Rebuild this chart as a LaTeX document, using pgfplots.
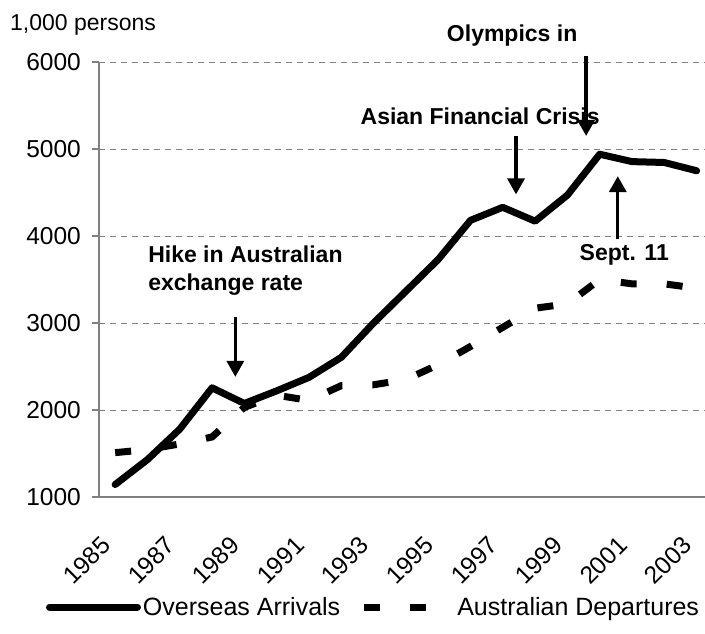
\documentclass[border=0pt]{standalone}
\usepackage{pgfplots}
\usepackage{pgfplotstable}
\pgfplotsset{compat=1.18}
\usepackage{fontspec}
\setmainfont{Liberation Sans}
\usetikzlibrary{arrows.meta}

% visitors, 1,000 persons (idx 0 = 1985)
\pgfplotstableread{
idx year arr  dep
0   1985 1143 1510
1   1986 1430 1545
2   1987 1780 1610
3   1988 2255 1690
4   1989 2075 2030
5   1990 2220 2170
6   1991 2375 2110
7   1992 2605 2280
8   1993 3000 2290
9   1994 3365 2350
10  1995 3730 2520
11  1996 4180 2730
12  1997 4330 2950
13  1998 4170 3170
14  1999 4470 3220
15  2000 4940 3500
16  2001 4855 3450
17  2002 4845 3450
18  2003 4750 3400
}\tourism

\newcommand\lbl{\fontsize{23}{28}\selectfont}
\newcommand\tkl{\fontsize{24.5}{29}\selectfont}
\tikzstyle{note}=[font=\bfseries\lbl, inner sep=0pt]
\tikzstyle{pointer}=[line width=3.3pt, -{Triangle[width=17pt,length=16pt]}]

\begin{document}
\begin{tikzpicture}
\useasboundingbox (0pt,0pt) rectangle (705pt,633pt);
\begin{axis}[
    at={(99pt,136pt)}, anchor=south west,
    scale only axis, width=606pt, height=435pt,
    xmin=-0.5, xmax=18.26, ymin=1000, ymax=6000,
    axis x line*=bottom, axis y line*=left,
    axis line style={draw=gray, line width=1.3pt},
    xtick={0,2,...,18},
    xticklabels={1985,1987,1989,1991,1993,1995,1997,1999,2001,2003},
    xtick style={draw=none},
    minor xtick={-0.5,0.5,...,17.5},
    minor tick length=7pt,
    minor tick style={draw=gray, line width=1.3pt},
    ytick={1000,2000,...,6000},
    ytick style={draw=gray, line width=1.3pt},
    major tick length=7pt,
    tick align=outside,
    ymajorgrids,
    major grid style={draw=gray, line width=1pt, dash pattern=on 6pt off 5pt},
    scaled y ticks=false,
    /pgf/number format/1000 sep={},
    /pgf/number format/assume math mode=true,
    tick label style={font=\tkl},
    yticklabel style={inner sep=0pt, xshift=-11pt},
    xticklabel style={anchor=east, inner sep=0pt, xshift=-9pt, yshift=-37pt, rotate=45},
    clip=false,
    legend style={at={(axis description cs:0.453,-0.253)}, anchor=center,
        draw=none, fill=none, legend columns=2, font=\fontsize{25}{30}\selectfont,
        /tikz/every even column/.append style={column sep=18pt},
        nodes={inner sep=2pt}},
    legend image code/.code={\draw[#1] (0pt,0pt) -- (88pt,0pt);},
]
\addplot[black, line width=7pt, line join=round, line cap=round]
    table[x=idx, y=arr] {\tourism};
\addlegendentry{Overseas Arrivals}
\addplot[black, line width=7pt, dash pattern=on 16pt off 30pt]
    table[x=idx, y=dep] {\tourism};
\addlegendentry{Australian Departures}

% annotations
\node[note] at (axis cs:12.29,6302) {Olympics in};
\draw[pointer] (axis cs:14.58,6072) -- (axis cs:14.58,5150);
\node[note] at (axis cs:11.30,5380) {Asian Financial Crisis};
\draw[pointer] (axis cs:12.41,5150) -- (axis cs:12.41,4478);
\node[note, anchor=west] at (axis cs:1.02,3788) {Hike in Australian};
\node[note, anchor=west] at (axis cs:1.02,3442) {exchange rate};
\draw[pointer] (axis cs:3.72,3073) -- (axis cs:3.72,2381);
\node[note] at (axis cs:15.76,3788) {Sept. 11};
\draw[pointer] (axis cs:15.56,3961) -- (axis cs:15.56,4688);
\end{axis}
\node[anchor=west, font=\lbl, inner sep=0pt] at (10pt,608pt) {1,000 persons};
\end{tikzpicture}
\end{document}
